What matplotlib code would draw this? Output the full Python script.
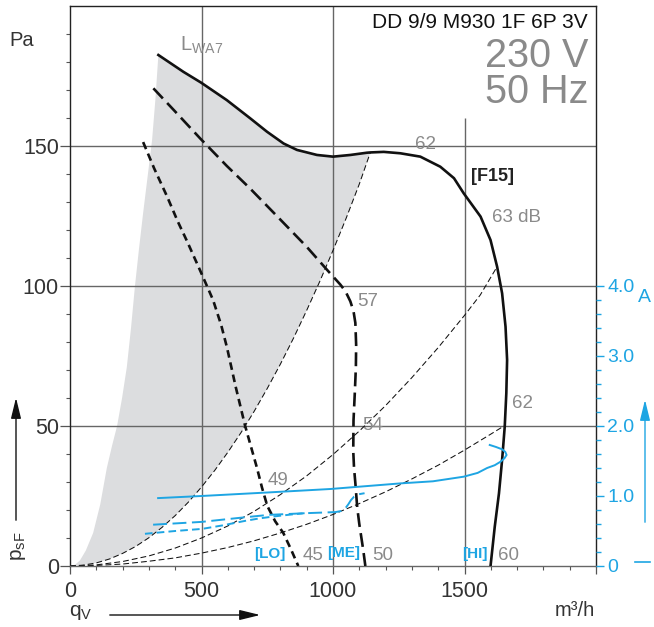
import numpy as np
import matplotlib
matplotlib.use('Agg')
import matplotlib.pyplot as plt
from matplotlib.ticker import FixedLocator

plt.rcParams['font.family'] = ['Liberation Sans', 'DejaVu Sans']
plt.rcParams['mathtext.fontset'] = 'custom'
plt.rcParams['mathtext.rm'] = 'Liberation Sans'
plt.rcParams['mathtext.it'] = 'Liberation Sans:italic'
plt.rcParams['lines.scale_dashes'] = False

# ---------------- data ----------------
# pressure curves: q [m3/h], p [Pa]
hi_q = [336, 431, 499, 596, 685, 749, 812, 863, 939, 1000, 1066, 1129, 1142, 1193,
        1256, 1294, 1332, 1408, 1460, 1497, 1561, 1599, 1624, 1643, 1656, 1662,
        1659, 1653, 1643, 1631, 1615, 1599]
hi_p = [182.5, 176.5, 172.6, 166.4, 159.9, 155.1, 150.9, 148.6, 146.8, 146.2, 146.8,
        147.6, 147.7, 147.9, 147.4, 146.8, 146.2, 142.6, 138.5, 133.1, 124.8, 116.4,
        106.9, 97.4, 85.5, 73.6, 61.7, 49.8, 37.9, 25.9, 14, 0]

me_q = [317, 400, 495, 596, 685, 800, 900, 978, 1028, 1048, 1066, 1078, 1085, 1088,
        1087, 1083, 1078, 1077, 1080, 1085, 1092, 1100, 1115, 1123]
me_p = [170.6, 162.3, 152.7, 142.9, 134.8, 123.7, 114, 105.7, 100.5, 98, 94.5, 91,
        86.8, 79, 71, 62, 52, 41, 35, 29.6, 21, 15, 5.7, 0]

lo_q = [278, 320, 369, 410, 445, 495, 544, 575, 597, 630, 666, 690, 711, 730, 750,
        780, 811, 840, 868]
lo_p = [151.4, 142, 132, 123, 116, 105.5, 95, 86, 78, 64, 50, 42, 35, 28, 21.5,
        16, 11.8, 6, 0]

# left edge of the grey L_WA7 area
fill_left_q = [0, 20, 38, 60, 88, 115, 140, 160, 179, 198, 216, 232, 247, 262, 278,
               295, 312, 325, 336]
fill_left_p = [0, 0.5, 2, 5.5, 11.8, 22, 35, 43, 50, 60, 71, 85, 100, 113, 126,
               139, 152, 167, 182.5]

# system curves (thin dashed)
sys1_q = [0, 50, 100, 150, 200, 250, 300, 350, 400, 450, 500, 550, 600, 650, 700,
          750, 800, 850, 900, 950, 1000, 1050, 1100, 1142]
sys1_p = [0, 0.3, 1.1, 2.5, 4.5, 7.0, 10.1, 13.8, 18.0, 22.8, 28.2, 34.1, 40.6, 47.6,
          55.2, 63.4, 72.1, 81.4, 91.3, 101.7, 112.7, 124.2, 136.4, 147.7]
sys2_q = [0, 100, 200, 300, 400, 500, 600, 700, 800, 900, 1000, 1100, 1200, 1300,
          1400, 1500, 1560, 1624]
sys2_p = [0, 0.4, 1.6, 3.6, 6.4, 10, 14.3, 19.5, 25.5, 32.2, 39.8, 48.2, 57.3, 67.3,
          78, 89.5, 96.8, 106.9]
sys3_q = [0, 100, 200, 300, 400, 500, 600, 700, 800, 900, 1000, 1100, 1200, 1300,
          1400, 1500, 1600, 1650]
sys3_p = [0, 0.2, 0.7, 1.7, 2.9, 4.6, 6.6, 9, 11.8, 14.9, 18.4, 22.3, 26.5, 31.1,
          36, 41.4, 47.1, 50]

# current curves: q [m3/h], I [A]
hi_cur_q = [335, 500, 750, 990, 1256, 1380, 1497, 1550, 1586, 1615, 1637, 1652, 1660,
            1655, 1643, 1620, 1596]
hi_cur_a = [0.97, 1.0, 1.05, 1.10, 1.18, 1.21, 1.276, 1.33, 1.40, 1.44, 1.49, 1.54,
            1.586, 1.63, 1.667, 1.70, 1.729]
me_cur_q = [316, 500, 650, 754, 900, 1009, 1030, 1046, 1058, 1068, 1080, 1098, 1120]
me_cur_a = [0.59, 0.63, 0.69, 0.73, 0.755, 0.77, 0.785, 0.82, 0.88, 0.94, 0.99,
            1.025, 1.04]
lo_cur_q = [285, 400, 502, 580, 666, 720, 780, 840, 906]
lo_cur_a = [0.46, 0.50, 0.53, 0.58, 0.645, 0.68, 0.71, 0.735, 0.76]

x_ticks = [0, 500, 1000, 1500, 2000]
x_labels = ['0', '500', '1000', '1500', '']
y_ticks = [0, 50, 100, 150]
y_labels = ['0', '50', '100', '150']
a_ticks = [0, 1, 2, 3, 4]
a_labels = ['0', '1.0', '2.0', '3.0', '4.0']

sound_labels = [(1351, 150.4, '62'), (1698, 124.3, '63 dB'), (1131, 94.3, '57'),
                (1150, 50, '54'), (1721, 58.2, '62'), (792, 30.4, '49'),
                (925, 3.6, '45'), (1188, 3.6, '50'), (1667, 3.6, '60')]
speed_labels = [(761, 4.3, '[LO]'), (1039, 4.6, '[ME]'), (1538, 4.3, '[HI]')]

BLUE = '#1ea5e3'
GREY_TXT = '#8a8a8a'
W, H = 654, 627


def fp(x, y):
    return (x / W, 1 - y / H)


fig = plt.figure(figsize=(W / 100, H / 100), dpi=100)
ax = fig.add_axes([70 / W, 1 - 566 / H, 526 / W, 560 / H])
ax.set_xlim(0, 2000)
ax.set_ylim(0, 200)

# grid
for gy in [50, 100, 150]:
    ax.axhline(gy, color='#666666', lw=1.0, zorder=1)
ax.vlines([500, 1000], 0, 200, color='#666666', lw=1.0, zorder=1)
ax.vlines([1500], 0, 160, color='#666666', lw=1.0, zorder=1)

# grey area
n_top = hi_q.index(1142) + 1
poly_q = fill_left_q + hi_q[:n_top] + sys1_q[::-1]
poly_p = fill_left_p + hi_p[:n_top] + sys1_p[::-1]
ax.fill(poly_q, poly_p, color='#dcdddf', lw=0, zorder=0.5)

# system curves
for sq, sp in [(sys1_q, sys1_p), (sys2_q, sys2_p), (sys3_q, sys3_p)]:
    ax.plot(sq, sp, color='#111111', lw=0.75, dashes=(4.2, 2.2), zorder=2)

# fan curves
ax.plot(hi_q, hi_p, color='#111111', lw=1.9, zorder=3, solid_joinstyle='round')
ax.plot(me_q, me_p, color='#111111', lw=1.9, dashes=(10, 4.5), zorder=3)
ax.plot(lo_q, lo_p, color='#111111', lw=1.9, dashes=(5.5, 3.5), zorder=3)

# ticks
ax.set_xticks(x_ticks)
ax.set_xticklabels(x_labels)
ax.xaxis.set_minor_locator(FixedLocator([v for v in range(100, 2000, 100) if v % 500]))
ax.set_yticks(y_ticks)
ax.set_yticklabels(y_labels)
ax.yaxis.set_minor_locator(FixedLocator([v for v in range(10, 200, 10) if v % 50]))
ax.tick_params(which='major', length=6, width=0.9, color='#555555', labelsize=15.5,
               labelcolor='#333333', direction='out')
ax.tick_params(axis='y', which='major', length=7, pad=1)
ax.tick_params(axis='x', which='major', pad=5)
ax.tick_params(which='minor', length=3, width=0.8, color='#555555', direction='out')
for s in ['left', 'top', 'right']:
    ax.spines[s].set_color('#222222')
    ax.spines[s].set_linewidth(1.0)
ax.spines['bottom'].set_color('#666666')
ax.spines['bottom'].set_linewidth(1.0)

# current axis
ax2 = ax.twinx()
ax2.set_ylim(0, 8)
ax2.set_yticks(a_ticks)
ax2.set_yticklabels(a_labels)
ax2.yaxis.set_minor_locator(FixedLocator([round(v * 0.2, 1) for v in range(1, 20) if v % 5]))
ax2.tick_params(which='major', length=6, width=1.0, color=BLUE, labelcolor=BLUE,
                labelsize=14, pad=2)
ax2.tick_params(which='minor', length=3.5, width=1.0, color=BLUE)
for s in ax2.spines.values():
    s.set_visible(False)

ax2.plot(hi_cur_q, hi_cur_a, color=BLUE, lw=1.4, zorder=4)
ax2.plot(me_cur_q, me_cur_a, color=BLUE, lw=1.4, dashes=(10, 4), zorder=4)
ax2.plot(lo_cur_q, lo_cur_a, color=BLUE, lw=1.4, dashes=(5.5, 3), zorder=4)

# curve labels
for q, p, t in sound_labels:
    ax.text(q, p, t, fontsize=13.5, color=GREY_TXT, ha='center', va='center', zorder=5)
for q, p, t in speed_labels:
    ax.text(q, p, t, fontsize=11, color=BLUE, fontweight='bold', ha='center', va='center',
            family=['Liberation Sans Narrow', 'Liberation Sans'], zorder=5)
ax.text(1606, 139, '[F15]', fontsize=13, color='#222222', fontweight='bold', ha='center',
        va='center', family=['Liberation Sans Narrow', 'Liberation Sans'], zorder=5)
ax.text(419, 186, r'L$_\mathrm{WA7}$', fontsize=14.5, color=GREY_TXT, ha='left', va='center')

# heading
ax.text(1970, 192.1, 'DD 9/9 M930 1F 6P 3V', fontsize=15, color='#111111', ha='right',
        va='baseline')
ax.text(1972, 178.2, '230 V', fontsize=28.5, color=GREY_TXT, ha='right', va='baseline')
ax.text(1972, 165.3, '50 Hz', fontsize=28.5, color=GREY_TXT, ha='right', va='baseline')

# axis captions
fig.text(*fp(22, 41), 'Pa', fontsize=14.5, color='#333333', ha='center', va='center')
fig.text(*fp(595, 611), 'm³/h', fontsize=14.5, color='#333333', ha='right', va='center')
fig.text(*fp(81, 612), r'q$_\mathrm{V}$', fontsize=15, color='#333333', ha='center', va='center')
fig.text(*fp(18, 546), r'p$_\mathrm{sF}$', fontsize=15, color='#333333', ha='center',
         va='center', rotation=90)
fig.text(*fp(644, 298), 'A', fontsize=14, color=BLUE, ha='center', va='center')

arrow_kw = dict(arrowstyle='-|>,head_length=0.9,head_width=0.22', mutation_scale=14, lw=1.0)
ax.annotate('', xy=fp(263, 615), xytext=fp(107, 615), xycoords='figure fraction',
            textcoords='figure fraction', arrowprops=dict(color='#111111', **arrow_kw))
ax.annotate('', xy=fp(16, 395), xytext=fp(16, 523), xycoords='figure fraction',
            textcoords='figure fraction', arrowprops=dict(color='#111111', **arrow_kw))
ax.annotate('', xy=fp(645, 397), xytext=fp(645, 525), xycoords='figure fraction',
            textcoords='figure fraction', arrowprops=dict(color=BLUE, **arrow_kw))
fig.add_artist(plt.Line2D([635 / W, 650 / W], [1 - 562 / H, 1 - 562 / H], color=BLUE, lw=1.2))

fig.savefig('out.png', dpi=100, facecolor='white')
